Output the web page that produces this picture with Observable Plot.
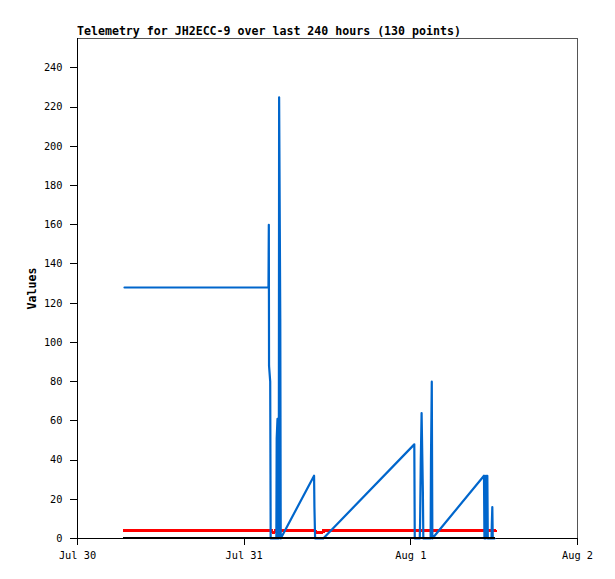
<!DOCTYPE html>
<html><head><meta charset="utf-8">
<script src="https://cdn.jsdelivr.net/npm/d3@7"></script>
<script src="https://cdn.jsdelivr.net/npm/@observablehq/plot@0.6"></script>
<style>
body{margin:0;background:#fff;}
#title{height:30px;position:relative;}
#title span{position:absolute;left:77px;top:24px;font:bold 11.6px "DejaVu Sans Mono",monospace;white-space:pre;color:#000;}
</style></head><body>
<div id="title"><span>Telemetry for JH2ECC-9 over last 240 hours (130 points)</span></div>
<div id="chart"></div>
<script>
// Blue telemetry channel
const blueTimes = [
  "2024-07-30T06:46","2024-07-31T03:30","2024-07-31T03:33","2024-07-31T03:35","2024-07-31T03:45",
  "2024-07-31T03:49","2024-07-31T04:38","2024-07-31T04:41","2024-07-31T04:48","2024-07-31T04:52",
  "2024-07-31T04:59","2024-07-31T05:02","2024-07-31T05:12","2024-07-31T05:16","2024-07-31T10:04",
  "2024-07-31T10:07","2024-07-31T10:13","2024-07-31T11:23","2024-08-01T00:30","2024-08-01T00:34",
  "2024-08-01T01:17","2024-08-01T01:20","2024-08-01T01:26","2024-08-01T01:33","2024-08-01T01:44",
  "2024-08-01T01:48","2024-08-01T02:51","2024-08-01T02:54","2024-08-01T03:01","2024-08-01T03:06",
  "2024-08-01T10:32","2024-08-01T10:36","2024-08-01T10:42","2024-08-01T10:48","2024-08-01T10:54",
  "2024-08-01T11:01","2024-08-01T11:05","2024-08-01T11:37","2024-08-01T11:40","2024-08-01T11:44",
  "2024-08-01T11:48","2024-08-01T12:03"
];
const blueValues = [
  128,128,160,88,80,
  0,0,51,61,0,
  0,225,112,0,32,
  16,0,0,48,0,
  0,8,40,64,24,
  0,0,40,80,0,
  32,0,32,0,32,
  32,0,0,8,16,
  0,0
];
// Red telemetry channel
const redTimes = ["2024-07-30T06:46","2024-07-31T04:00","2024-07-31T04:30","2024-07-31T10:13","2024-07-31T11:23","2024-08-01T12:11"];
const redValues = [4,3.3,4,3.3,4,4];
// Black telemetry channel
const blackTimes = ["2024-07-30T06:46","2024-08-01T12:03"];
const blackValues = [0,0];

const xTicks = ["2024-07-30","2024-07-31","2024-08-01","2024-08-02"];
const yTicks = [0,20,40,60,80,100,120,140,160,180,200,220,240];
const xDomain = ["2024-07-30","2024-08-02"];
const yDomain = [0,255];

const toDate = s => new Date(s + (s.length > 10 ? ":00Z" : "T00:00:00Z"));
const rows = (ts, vs) => ts.map((t, i) => ({t: toDate(t), v: vs[i]}));

const blue = rows(blueTimes, blueValues);
const red = rows(redTimes, redValues);
const black = rows(blackTimes, blackValues);

const chart = Plot.plot({
  width: 615,
  height: 549,
  marginLeft: 77,
  marginRight: 38,
  marginTop: 8,
  marginBottom: 41,
  style: {fontFamily: "'DejaVu Sans Mono', monospace", fontSize: "10.3px", color: "#000", background: "#fff"},
  x: {type: "utc", domain: xDomain.map(toDate)},
  y: {domain: yDomain},
  marks: [
    Plot.frame({stroke: "#555", shapeRendering: "crispEdges"}),
    Plot.axisY({ticks: yTicks, tickSize: 7, tickPadding: 8, label: null, shapeRendering: "crispEdges"}),
    Plot.axisX({ticks: xTicks.map(toDate), tickFormat: d3.utcFormat("%b %-d"), tickSize: 7, tickPadding: 6, label: null, shapeRendering: "crispEdges"}),
    Plot.ruleY([0], {stroke: "#000", strokeWidth: 1, shapeRendering: "crispEdges"}),
    Plot.ruleX([toDate(xDomain[0])], {stroke: "#000", strokeWidth: 1, shapeRendering: "crispEdges"}),
    Plot.line(red, {x: "t", y: "v", stroke: "#ff0000", strokeWidth: 3, curve: "step-after", shapeRendering: "crispEdges"}),
    Plot.line(blue, {x: "t", y: "v", stroke: "#0066cc", strokeWidth: 2.2}),
    Plot.line(black, {x: "t", y: "v", stroke: "#000", strokeWidth: 2, dy: -1, shapeRendering: "crispEdges"}),
    Plot.text(["Values"], {frameAnchor: "left", rotate: -90, dx: -45, fontWeight: "bold", fontSize: 11.6, textAnchor: "middle"})
  ]
});
document.getElementById("chart").appendChild(chart);
</script></body></html>
